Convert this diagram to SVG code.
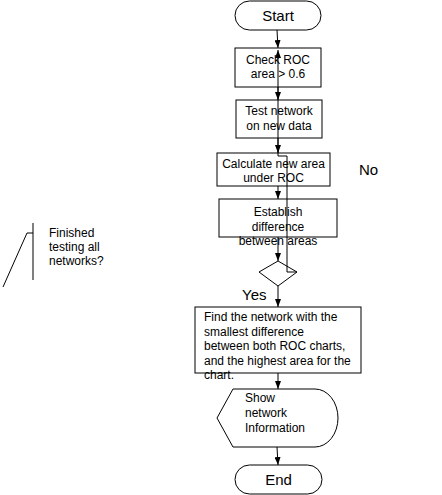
<svg xmlns="http://www.w3.org/2000/svg" width="442" height="495" viewBox="0 0 442 495">
<defs>
<style>
.s{fill:#fff;stroke:#000;stroke-width:1}
.c{fill:none;stroke:#000;stroke-width:1}
.t{font-family:"Liberation Sans",Arial,sans-serif;font-size:12px;fill:#000}
.m{text-anchor:middle}
.big{font-size:15px}
</style>
<marker id="ah" viewBox="0 0 8 6" refX="8" refY="3" markerWidth="8" markerHeight="6" markerUnits="userSpaceOnUse" orient="auto">
<path d="M0,0 L8,3 L0,6 Z" fill="#000"/>
</marker>
</defs>
<rect width="442" height="495" fill="#fff"/>
<g id="start"><rect class="s" x="235" y="1" width="86" height="29" rx="14.5"/><text class="t m big" x="278" y="21">Start</text></g>
<g id="check"><rect class="s" x="235" y="48" width="86" height="39"/><text class="t m" x="278" y="64">Check ROC</text><text class="t m" x="278" y="78">area &gt; 0.6</text></g>
<g id="test"><rect class="s" x="236" y="100" width="86" height="38"/><text class="t m" x="279" y="115">Test network</text><text class="t m" x="279" y="130">on new data</text></g>
<g id="calc"><rect class="s" x="217" y="153" width="113" height="33"/><text class="t m" x="273.5" y="168">Calculate new area</text><text class="t m" x="273.5" y="182">under ROC</text></g>
<g id="estab"><rect class="s" x="219" y="199" width="118" height="38"/><text class="t m" x="278" y="216">Establish</text><text class="t m" x="278" y="230.5">difference</text><text class="t m" x="278" y="245">between areas</text></g>
<g id="decision"><polygon class="s" points="278,261 297,272 278,286 259,272"/></g>
<g id="find"><rect class="s" x="195" y="307" width="166" height="66"/><text class="t" x="204" y="321">Find the network with the</text><text class="t" x="204" y="335.5">smallest difference</text><text class="t" x="204" y="350">between both ROC charts,</text><text class="t" x="204" y="364.5">and the highest area for the</text><text class="t" x="204" y="379">chart.</text></g>
<g id="show"><path class="s" d="M217,418 L233,389 H315 A23,29 0 0 1 315,447 H233 Z"/><text class="t" x="245" y="402">Show</text><text class="t" x="245" y="417">network</text><text class="t" x="245" y="432">Information</text></g>
<g id="end"><rect class="s" x="235" y="465" width="87" height="29" rx="14.5"/><text class="t m big" x="278.5" y="485">End</text></g>
<g id="note"><path class="c" d="M3,287 L27,233 H33"/><path class="c" d="M33,223 V280"/><text class="t" x="49" y="237">Finished</text><text class="t" x="49" y="251">testing all</text><text class="t" x="49" y="265">networks?</text></g>
<g id="connectors">
<path class="c" d="M277,30 L278,48" marker-end="url(#ah)"/>
<path class="c" d="M278,87 V100" marker-end="url(#ah)"/>
<path class="c" d="M278,138 V153" marker-end="url(#ah)"/>
<path class="c" d="M278,186 V199" marker-end="url(#ah)"/>
<path class="c" d="M278,237 V261" marker-end="url(#ah)"/>
<path class="c" d="M278,286 V307" marker-end="url(#ah)"/>
<path class="c" d="M278,373 V389" marker-end="url(#ah)"/>
<path class="c" d="M277,447 L278,465" marker-end="url(#ah)"/>
<path class="c" d="M297,272 H287 V156 H278 V50" marker-end="url(#ah)"/>
<text class="t big" x="359" y="175">No</text>
<text class="t big" x="242" y="300">Yes</text>
</g>
</svg>
